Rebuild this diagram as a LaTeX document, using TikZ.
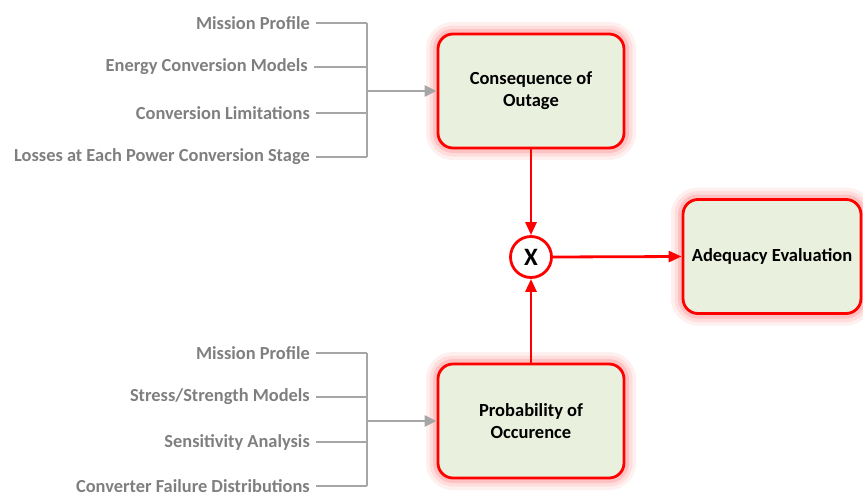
\documentclass[tikz,border=0pt]{standalone}
\usepackage{fontspec}
\setmainfont{Carlito}
\usetikzlibrary{arrows.meta}
\definecolor{boxfill}{RGB}{234,240,222}
\definecolor{lblgray}{RGB}{127,127,127}
\definecolor{linegray}{RGB}{166,166,166}
\tikzset{
  box/.style={draw=red, line width=2.8pt, rounded corners=15pt, fill=boxfill,
    minimum width=186pt, minimum height=114pt, align=center,
    font=\bfseries\fontsize{18.5}{22}\selectfont, text=black,
    preaction={draw=red, draw opacity=0.06, line width=24pt},
    preaction={draw=red, draw opacity=0.08, line width=17pt},
    preaction={draw=red, draw opacity=0.12, line width=10pt}},
  lbl/.style={anchor=east, text=lblgray, font=\bfseries\fontsize{18.4}{20}\selectfont, inner sep=0pt},
  gline/.style={draw=linegray, line width=2.6pt},
  garrow/.style={gline, -{Triangle[length=12pt,width=11pt]}},
  rarrow/.style={draw=red, line width=2.8pt, -{Triangle[length=13pt,width=11pt]}},
  mult/.style={circle, draw=red, line width=2.8pt, fill=white, minimum size=41pt, inner sep=0pt,
    font=\bfseries\fontsize{25}{26}\selectfont}
}
\begin{document}
\begin{tikzpicture}[x=1pt,y=-1pt]
\useasboundingbox (0,0) rectangle (863,496);
% boxes
\node[box] (cons) at (531,91) {Consequence of\\Outage};
\node[box] (prob) at (531,421) {Probability of\\Occurence};
\node[box, minimum width=178pt] (adeq) at (772,256.5) {Adequacy Evaluation};
\node[mult] (x) at (531,257) {X};
% top labels
\node[lbl] (t1) at (310,23) {Mission Profile};
\node[lbl] (t2) at (308,67) {Energy Conversion Models};
\node[lbl] (t3) at (310,113) {Conversion Limitations};
\node[lbl] (t4) at (310,157) {Losses at Each Power Conversion Stage};
\coordinate (tb1) at (367,23);
\coordinate (tb4) at (367,157);
\coordinate (tj) at (367,91);
\foreach \i/\y in {1/23,2/67,3/113,4/157}{
  \draw[gline] ([xshift=6pt]t\i.east |- 0,\y) -- (367,\y);
}
\draw[gline] (tb1) -- (tb4);
\draw[garrow] (tj) -- (cons.west);
% bottom labels
\node[lbl] (b1) at (310,353) {Mission Profile};
\node[lbl] (b2) at (310,397) {Stress/Strength Models};
\node[lbl] (b3) at (310,442) {Sensitivity Analysis};
\node[lbl] (b4) at (310,486) {Converter Failure Distributions};
\coordinate (bb1) at (367,353);
\coordinate (bb4) at (367,486);
\coordinate (bj) at (367,421);
\foreach \i/\y in {1/353,2/397,3/442,4/486}{
  \draw[gline] ([xshift=6pt]b\i.east |- 0,\y) -- (367,\y);
}
\draw[gline] (bb1) -- (bb4);
\draw[garrow] (bj) -- (prob.west);
% red connectors
\draw[rarrow] (cons.south) -- (x.north);
\draw[rarrow] (prob.north) -- (x.south);
\draw[rarrow] (x.east) -- (adeq.west);
\end{tikzpicture}
\end{document}
